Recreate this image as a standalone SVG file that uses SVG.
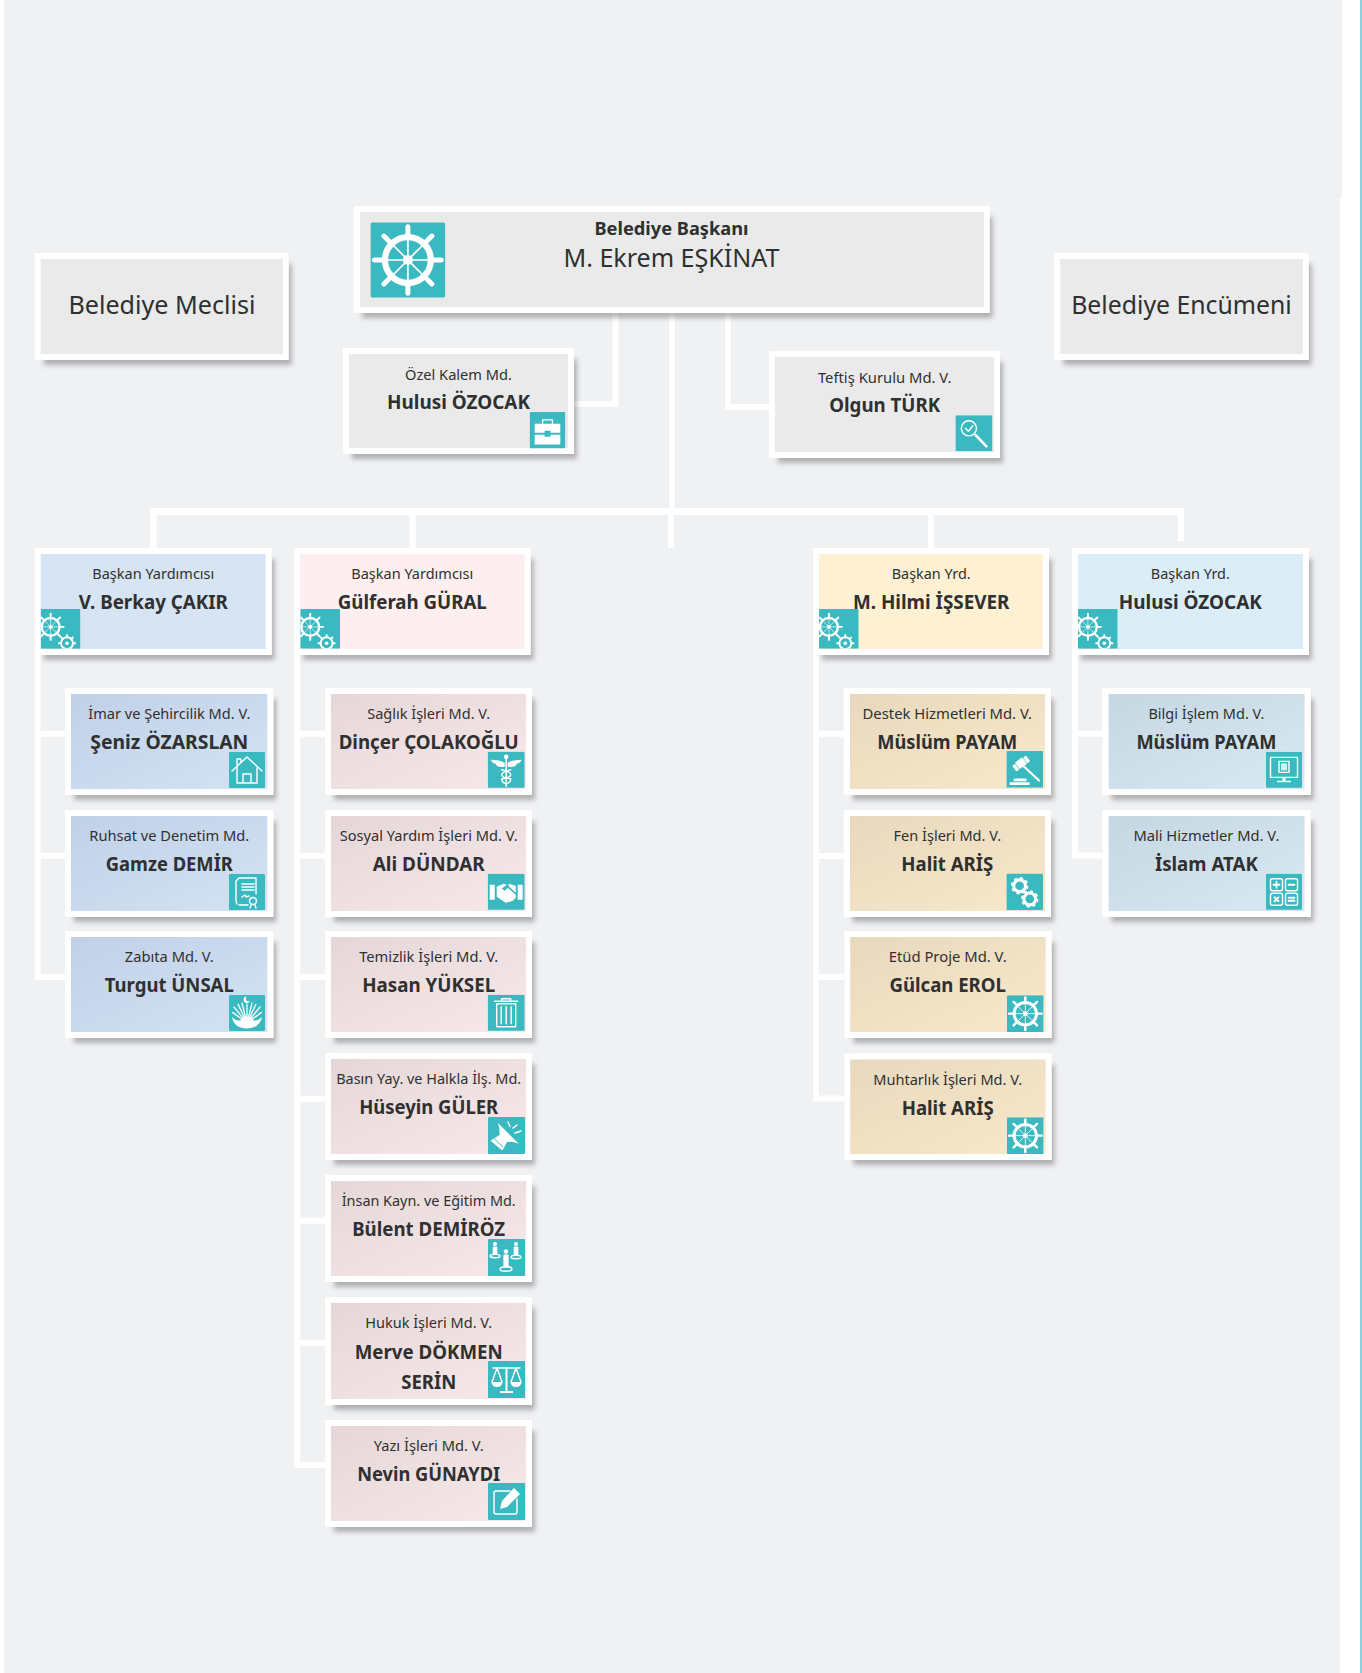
<svg xmlns="http://www.w3.org/2000/svg" width="1362" height="1673" viewBox="0 0 1362 1673">
<style>
text{font-family:"Noto Sans","Open Sans","Liberation Sans",sans-serif;fill:#2f3030;text-anchor:middle}
.r{font-size:15.2px}
.b{font-size:19.2px;font-weight:700}
.card{fill:#fff;filter:url(#sh)}
.ic{fill:#3bb9c1}
.i{fill:none;stroke:#fff;stroke-width:1.4;stroke-linecap:round;stroke-linejoin:round}
.w{fill:#fff}
.t{fill:#3bb9c1}
</style>
<defs>
<filter id="sh" x="-10%" y="-10%" width="125%" height="130%"><feMorphology in="SourceAlpha" operator="erode" radius="3"/><feOffset dx="6" dy="8"/><feGaussianBlur stdDeviation="2.4" result="o"/><feFlood flood-color="#000" flood-opacity=".27"/><feComposite in2="o" operator="in"/><feMerge><feMergeNode/><feMergeNode in="SourceGraphic"/></feMerge></filter>
<linearGradient id="g1" x1="0" y1="0" x2="1" y2="1"><stop offset="0" stop-color="#c0d0e8"/><stop offset="1" stop-color="#d4e3f3"/></linearGradient>
<linearGradient id="g2" x1="0" y1="0" x2="1" y2="1"><stop offset="0" stop-color="#e5d7d8"/><stop offset="1" stop-color="#f8e8ea"/></linearGradient>
<linearGradient id="g3" x1="0" y1="0" x2="1" y2="1"><stop offset="0" stop-color="#e8d9be"/><stop offset="1" stop-color="#f8e9cb"/></linearGradient>
<linearGradient id="g4" x1="0" y1="0" x2="1" y2="1"><stop offset="0" stop-color="#c5d7e2"/><stop offset="1" stop-color="#d9e9f4"/></linearGradient>
<g id="helmG">
<circle r="11" fill="none" stroke="#fff" stroke-width="3"/>
<g stroke="#fff" stroke-width="2.4" stroke-linecap="round"><path d="M0-11V-16M0 11V16M-11 0H-16M11 0H16M-7.8-7.8L-11.5-11.5M7.8-7.8L11.5-11.5M-7.8 7.8L-11.5 11.5M7.8 7.8L11.5 11.5"/></g>
<g stroke="#fff" stroke-width=".8"><path d="M0-10V10M-10 0H10M-7-7L7 7M-7 7L7-7"/></g>
<circle r="2.4" fill="#fff"/>
</g>
<g id="gearG"><circle r="5.8" fill="none" stroke="#fff" stroke-width="3"/><circle r="7.6" fill="none" stroke="#fff" stroke-width="2" stroke-dasharray="3 2.97"/></g>
<symbol id="i-helm" viewBox="0 0 36 36"><rect class="ic" width="36" height="36" rx="1"/><use href="#helmG" x="18" y="18"/></symbol>
<symbol id="i-vp" viewBox="0 0 40 40"><rect class="ic" width="40" height="40" rx="1"/><use href="#helmG" transform="translate(10 18) scale(.82)"/><g transform="translate(26.5 34.5)"><circle r="6" fill="none" stroke="#fff" stroke-width="2"/><circle r="1.8" fill="#fff"/><path d="M0-6V-9M0 6V9M-6 0H-9M6 0H9M-4.2-4.2L-6.4-6.4M4.2-4.2L6.4-6.4" stroke="#fff" stroke-width="1.8"/></g></symbol>
<symbol id="i-case" viewBox="0 0 36 37"><rect class="ic" width="36" height="37" rx="1"/><path class="w" d="M5 12H31V21H21V19H15V21H5ZM5 23H15V25H21V23H31V33H5Z"/><path class="i" d="M13 12V8H23V12"/></symbol>
<symbol id="i-mag" viewBox="0 0 37 36"><rect class="ic" width="37" height="36" rx="1"/><circle class="i" cx="13.5" cy="13" r="7.6"/><path class="i" d="M10 13L13 16L17.5 10.5"/><path d="M20 19.5L31 31" stroke="#fff" stroke-width="2.6" stroke-linecap="round"/></symbol>
<symbol id="i-house" viewBox="0 0 36 36"><rect class="ic" width="36" height="36" rx="1"/><path class="i" d="M3 19L18 5L33 19M8 15V31H28V16M14 31V22H22V31M8 13V7H12V10"/></symbol>
<symbol id="i-cert" viewBox="0 0 36 36"><rect class="ic" width="36" height="36" rx="1"/><path class="i" d="M8 30Q7 28 7 26V7L10 4H27V20M13 10H25M13 13H25M13 16H25M13 23L16 21L17 23L20 22M10 31H19"/><circle class="i" cx="24" cy="27" r="3.5"/><path class="i" d="M22 31L21 34M26 31L27 34"/></symbol>
<symbol id="i-peacock" viewBox="0 0 36 36"><rect class="ic" width="36" height="36" rx="1"/><path class="i" stroke-dasharray="1.6 1.1" d="M18 28L3 17M18 28L5 12M18 28L9 9M18 28L13 8M18 28L18 9M18 28L23 8M18 28L27 9M18 28L31 12M18 28L33 17"/><path class="w" d="M3 22Q5 33 18 33.5Q31 33 33 22Q28 27 24 25Q21 22 18 22Q15 22 12 25Q8 27 3 22Z"/><path class="w" d="M18 1.5A3.3 3.3 0 1 0 21 5.8A2.5 2.5 0 1 1 18 1.5Z"/></symbol>
<symbol id="i-cad" viewBox="0 0 37 36"><rect class="ic" width="37" height="36" rx="1"/><path class="w" d="M3 8Q12 8 17 11V15Q9 16 8 12Q5 12 3 8ZM34 8Q25 8 20 11V15Q28 16 29 12Q32 12 34 8Z"/><circle class="w" cx="18.5" cy="5" r="2.3"/><path d="M18.5 5V35" stroke="#fff" stroke-width="1.5"/><path class="i" d="M14 18Q23 20 23 23Q23 26 14 27Q14 31 18.5 32M23 18Q14 20 14 23Q14 26 23 27Q23 31 18.5 32"/></symbol>
<symbol id="i-hand" viewBox="0 0 37 36"><rect class="ic" width="37" height="36" rx="1"/><path class="w" d="M2 11H7V26H2ZM30 11H35V26H30Z"/><path class="w" d="M9 13L16 10L19 11L14 15L17 17L20 14L28 21V24L25 27L22 28L18 29L9 23Z"/><path class="w" d="M21 10L28 12V19L21 12.5Z"/></symbol>
<symbol id="i-trash" viewBox="0 0 37 36"><rect class="ic" width="37" height="36" rx="1"/><path class="i" d="M7 6.5H30M14 6V4H23V6M9 9H28V32H9ZM13.5 12V29M18.5 12V29M23.5 12V29"/></symbol>
<symbol id="i-mega" viewBox="0 0 37 37"><rect class="ic" width="37" height="37" rx="1"/><path class="w" d="M10 6L31 27Q25 24 19 25L15 32.5Q14 33.5 13 32.5L3.5 24.5Q2.5 23.5 3.5 23L11.5 18Q12 12 10 6Z"/><path d="M6 21.5L15 30" stroke="#3bb9c1" stroke-width="1"/><path class="i" stroke-width="1.8" d="M20 5L22 9.5M25 11L29 8M27 16L33 14"/></symbol>
<symbol id="i-people" viewBox="0 0 37 37"><rect class="ic" width="37" height="37" rx="1"/><g class="w"><circle cx="7" cy="5" r="2"/><rect x="4.7" y="7.5" width="4.6" height="8" rx="1"/><circle cx="28" cy="5" r="2"/><rect x="25.7" y="7.5" width="4.600" height="9" rx="1"/><circle cx="18" cy="12.5" r="2.2"/><rect x="15.4" y="15.5" width="5.2" height="13" rx="1"/></g><g class="i" stroke-width=".9"><ellipse cx="7" cy="17" rx="5" ry="1.800"/><ellipse cx="28" cy="18" rx="5" ry="1.800"/><ellipse cx="18" cy="30" rx="6" ry="2.3"/></g></symbol>
<symbol id="i-scale" viewBox="0 0 37 37"><rect class="ic" width="37" height="37" rx="1"/><path d="M18.5 6V30" stroke="#fff" stroke-width="2"/><path class="w" d="M12 30H25V32H12Z"/><path class="i" d="M5 7H32M9 7L4 21M9 7L14 21M28 7L23 21M28 7L33 21"/><path class="w" d="M3.5 21H14.5Q14 26 9 26Q4 26 3.5 21ZM22.5 21H33.5Q33 26 28 26Q23 26 22.5 21Z"/></symbol>
<symbol id="i-edit" viewBox="0 0 37 37"><rect class="ic" width="37" height="37" rx="1"/><path class="i" stroke-width="2" d="M22 8H8Q6 8 6 10V29Q6 31 8 31H27Q29 31 29 29V16"/><path class="w" d="M26 5L32 11L19 24L12 26L14 18Z"/></symbol>
<symbol id="i-gavel" viewBox="0 0 36 36"><rect class="ic" width="36" height="36" rx="1"/><g transform="translate(14 11.500) rotate(-37)"><rect class="w" x="-8.500" y="-2.500" width="3.500" height="7" rx="1"/><rect class="w" x="-4.500" y="-3.500" width="9" height="8" rx="1"/><rect class="w" x="5" y="-2.500" width="3.500" height="7" rx="1"/></g><path d="M17 15L32 29" stroke="#fff" stroke-width="2.200" stroke-linecap="round"/><rect class="w" x="7" y="27" width="13" height="2.600" rx="1.200"/><rect class="w" x="3" y="30.800" width="20" height="2.600" rx="1.200"/></symbol>
<symbol id="i-gears" viewBox="0 0 36 36"><rect class="ic" width="36" height="36" rx="1"/><use href="#gearG" x="13" y="12"/><use href="#gearG" x="23" y="25"/></symbol>
<symbol id="i-mon" viewBox="0 0 36 36"><rect class="ic" width="36" height="36" rx="1"/><rect class="i" x="4.5" y="5.5" width="27" height="20"/><rect class="i" x="13" y="9.500" width="10" height="11"/><rect class="w" x="15" y="11.500" width="6" height="7" opacity=".8"/><path class="w" d="M16.5 26H19.5V29H25V30.5H11V29H16.5Z"/></symbol>
<symbol id="i-calc" viewBox="0 0 36 36"><rect class="ic" width="36" height="36" rx="1"/><g class="i"><rect x="4.5" y="5" width="12" height="12" rx="2"/><rect x="19.5" y="5" width="12" height="12" rx="2"/><rect x="4.5" y="19.5" width="12" height="12" rx="2"/><rect x="19.5" y="19.5" width="12" height="12" rx="2"/><path stroke-width="1.8" d="M10.5 8V14M7.5 11H13.5M22.5 11H28.5M8.5 23.5L12.5 27.5M12.5 23.5L8.500 27.5M22.5 24H28.5M22.5 27H28.5"/></g></symbol>
</defs>

<rect width="1362" height="1673" fill="#fff"/>
<path d="M4 0H1342V198H1340V1673H4Z" fill="#f0f1f3"/>
<rect x="1360" width="2" height="1673" fill="#8dd0de"/>

<g id="connectors" fill="#fff">
<path d="M612.4 313H618.4V407H574V401H612.4Z"/>
<path d="M669 313H675V508H669Z"/>
<path d="M725 313H731V404H769V410H725Z"/>
<path d="M150 508H1184V541H1178V515H933.7V548H928V515H674V548H668V515H415.7V548H409.5V515H156.7V548H150Z"/>
<path d="M34.7 650H40.7V730.7H65V736.7H40.7V852.7H65V858.7H40.7V974H65V980H34.7Z"/>
<path d="M294.3 650H300.3V730.7H325V736.7H300.3V852.7H325V858.7H300.3V974H325V980H300.3V1095.7H325V1101.7H300.3V1217.7H325V1223.7H300.3V1339.7H325V1345.7H300.3V1462H325V1468H294.3Z"/>
<path d="M813 650H819V730.7H844V736.7H819V853H844V859H819V974H844V980H819V1095.5H844V1101.6H813Z"/>
<path d="M1072 650H1078V730.7H1103V736.7H1078V852.4H1103V858.4H1072Z"/>
</g>

<g id="n-baskan"><rect class="card" x="353.4" y="206" width="636.3" height="107"/><rect x="360" y="212" width="624" height="95" fill="#eaeaea"/><use href="#i-helm" x="370.4" y="222" width="75" height="76"/><text x="671.5" y="234.7" font-size="18" font-weight="700" textLength="154" lengthAdjust="spacingAndGlyphs">Belediye Başkanı</text><text x="671.5" y="267" font-size="25" textLength="216" lengthAdjust="spacingAndGlyphs">M. Ekrem EŞKİNAT</text></g>

<g id="n-meclis"><rect class="card" x="34.7" y="253" width="254" height="107"/><rect x="40.7" y="259" width="242.300" height="95" fill="#eaeaea"/><text x="162" y="314" font-size="26" textLength="187" lengthAdjust="spacingAndGlyphs">Belediye Meclisi</text></g>
<g id="n-encumen"><rect class="card" x="1054.3" y="253" width="254.400" height="107"/><rect x="1060.3" y="259" width="242.700" height="95" fill="#eaeaea"/><text x="1181.5" y="314" font-size="26" textLength="220.500" lengthAdjust="spacingAndGlyphs">Belediye Encümeni</text></g>

<g id="n-ozelkalem"><rect class="card" x="343" y="348" width="231" height="106"/><rect x="349" y="354" width="219" height="94" fill="#eaeaea"/><use href="#i-case" x="529.5" y="412" width="36" height="36.5"/><text class="r" x="458.5" y="380" textLength="107" lengthAdjust="spacingAndGlyphs">Özel Kalem Md.</text><text class="b" x="458.5" y="409" textLength="143" lengthAdjust="spacingAndGlyphs">Hulusi ÖZOCAK</text></g>
<g id="n-teftis"><rect class="card" x="769" y="351" width="231" height="107"/><rect x="775" y="357" width="219" height="95" fill="#eaeaea"/><use href="#i-mag" x="955.4" y="415.3" width="37" height="36"/><text class="r" x="884.7" y="382.7" textLength="133.6" lengthAdjust="spacingAndGlyphs">Teftiş Kurulu Md. V.</text><text class="b" x="884.7" y="412" textLength="111" lengthAdjust="spacingAndGlyphs">Olgun TÜRK</text></g>

<g id="n-vp1"><rect class="card" x="34.7" y="548" width="237" height="107"/><rect x="40.7" y="554" width="225" height="95" fill="#d6e4f3"/><use href="#i-vp" x="40.7" y="609" width="39.7" height="39.7"/><text class="r" x="153.3" y="579.3" textLength="122" lengthAdjust="spacingAndGlyphs">Başkan Yardımcısı</text><text class="b" x="153.3" y="609" textLength="149" lengthAdjust="spacingAndGlyphs">V. Berkay ÇAKIR</text></g>
<g id="n-vp2"><rect class="card" x="294.3" y="548" width="236.4" height="107"/><rect x="300.3" y="554" width="224.4" height="95" fill="#fdeeef"/><use href="#i-vp" x="300.3" y="609" width="39.7" height="39.7"/><text class="r" x="412.3" y="579.3" textLength="122" lengthAdjust="spacingAndGlyphs">Başkan Yardımcısı</text><text class="b" x="412.3" y="609" textLength="149" lengthAdjust="spacingAndGlyphs">Gülferah GÜRAL</text></g>
<g id="n-vp3"><rect class="card" x="813" y="548" width="236" height="107"/><rect x="819" y="554" width="224" height="95" fill="#fef0d2"/><use href="#i-vp" x="819" y="609" width="39.7" height="39.7"/><text class="r" x="931.2" y="579.3" textLength="79" lengthAdjust="spacingAndGlyphs">Başkan Yrd.</text><text class="b" x="931.2" y="609" textLength="156.6" lengthAdjust="spacingAndGlyphs">M. Hilmi İŞSEVER</text></g>
<g id="n-vp4"><rect class="card" x="1072" y="548" width="237" height="107"/><rect x="1078" y="554" width="225" height="95" fill="#dbedf6"/><use href="#i-vp" x="1078" y="609" width="39.7" height="39.7"/><text class="r" x="1190.3" y="579.3" textLength="79" lengthAdjust="spacingAndGlyphs">Başkan Yrd.</text><text class="b" x="1190.3" y="609" textLength="143" lengthAdjust="spacingAndGlyphs">Hulusi ÖZOCAK</text></g>

<g id="n-imar"><rect class="card" x="65" y="688" width="208.3" height="107"/><rect x="71" y="694" width="196.3" height="95" fill="url(#g1)"/><use href="#i-house" x="229" y="752" width="36" height="36"/><text class="r" x="169.3" y="719.3" textLength="162" lengthAdjust="spacingAndGlyphs">İmar ve Şehircilik Md. V.</text><text class="b" x="169.3" y="749" textLength="158" lengthAdjust="spacingAndGlyphs">Şeniz ÖZARSLAN</text></g>
<g id="n-ruhsat"><rect class="card" x="65" y="810" width="208.3" height="107"/><rect x="71" y="816" width="196.3" height="95" fill="url(#g1)"/><use href="#i-cert" x="229" y="874" width="36" height="36"/><text class="r" x="169.3" y="841.3" textLength="160" lengthAdjust="spacingAndGlyphs">Ruhsat ve Denetim Md.</text><text class="b" x="169.3" y="871" textLength="127" lengthAdjust="spacingAndGlyphs">Gamze DEMİR</text></g>
<g id="n-zabita"><rect class="card" x="65" y="931" width="208.3" height="107"/><rect x="71" y="937" width="196.3" height="95" fill="url(#g1)"/><use href="#i-peacock" x="229" y="995" width="36" height="36"/><text class="r" x="169.3" y="962.3" textLength="89" lengthAdjust="spacingAndGlyphs">Zabıta Md. V.</text><text class="b" x="169.3" y="992" textLength="129" lengthAdjust="spacingAndGlyphs">Turgut ÜNSAL</text></g>

<g id="n-saglik"><rect class="card" x="325" y="688" width="207" height="107"/><rect x="331" y="694" width="195" height="95" fill="url(#g2)"/><use href="#i-cad" x="487.7" y="751.5" width="37" height="36.5"/><text class="r" x="428.7" y="719.3" textLength="123" lengthAdjust="spacingAndGlyphs">Sağlık İşleri Md. V.</text><text class="b" x="428.7" y="749" textLength="180" lengthAdjust="spacingAndGlyphs">Dinçer ÇOLAKOĞLU</text></g>
<g id="n-sosyal"><rect class="card" x="325" y="810" width="207" height="107"/><rect x="331" y="816" width="195" height="95" fill="url(#g2)"/><use href="#i-hand" x="487.7" y="873.5" width="37" height="36.5"/><text class="r" x="428.7" y="841.3" textLength="178" lengthAdjust="spacingAndGlyphs">Sosyal Yardım İşleri Md. V.</text><text class="b" x="428.7" y="871" textLength="112" lengthAdjust="spacingAndGlyphs">Ali DÜNDAR</text></g>
<g id="n-temizlik"><rect class="card" x="325" y="931" width="207" height="107"/><rect x="331" y="937" width="195" height="95" fill="url(#g2)"/><use href="#i-trash" x="487.7" y="994.5" width="37" height="36.5"/><text class="r" x="428.7" y="962.3" textLength="139" lengthAdjust="spacingAndGlyphs">Temizlik İşleri Md. V.</text><text class="b" x="428.7" y="992" textLength="133" lengthAdjust="spacingAndGlyphs">Hasan YÜKSEL</text></g>
<g id="n-basin"><rect class="card" x="325" y="1053" width="207" height="107"/><rect x="331" y="1059" width="195" height="95" fill="url(#g2)"/><use href="#i-mega" x="488" y="1117" width="37" height="37"/><text class="r" x="428.7" y="1084.3" textLength="185" lengthAdjust="spacingAndGlyphs">Basın Yay. ve Halkla İlş. Md.</text><text class="b" x="428.7" y="1114" textLength="139" lengthAdjust="spacingAndGlyphs">Hüseyin GÜLER</text></g>
<g id="n-insan"><rect class="card" x="325" y="1175" width="207" height="107"/><rect x="331" y="1181" width="195" height="95" fill="url(#g2)"/><use href="#i-people" x="488" y="1239" width="37" height="37"/><text class="r" x="428.7" y="1206.3" textLength="174" lengthAdjust="spacingAndGlyphs">İnsan Kayn. ve Eğitim Md.</text><text class="b" x="428.7" y="1236" textLength="153" lengthAdjust="spacingAndGlyphs">Bülent DEMİRÖZ</text></g>
<g id="n-hukuk"><rect class="card" x="325" y="1297" width="207" height="108"/><rect x="331" y="1303" width="195" height="96" fill="url(#g2)"/><use href="#i-scale" x="488" y="1361" width="37" height="37"/><text class="r" x="428.7" y="1328.3" textLength="127" lengthAdjust="spacingAndGlyphs">Hukuk İşleri Md. V.</text><text class="b" x="428.7" y="1358.7" textLength="148" lengthAdjust="spacingAndGlyphs">Merve DÖKMEN</text><text class="b" x="428.7" y="1389" textLength="55" lengthAdjust="spacingAndGlyphs">SERİN</text></g>
<g id="n-yazi"><rect class="card" x="325" y="1420" width="207" height="107"/><rect x="331" y="1426" width="195" height="95" fill="url(#g2)"/><use href="#i-edit" x="488" y="1483" width="37" height="37"/><text class="r" x="428.7" y="1451.3" textLength="110" lengthAdjust="spacingAndGlyphs">Yazı İşleri Md. V.</text><text class="b" x="428.7" y="1481" textLength="143" lengthAdjust="spacingAndGlyphs">Nevin GÜNAYDI</text></g>

<g id="n-destek"><rect class="card" x="843.7" y="688" width="207.3" height="107"/><rect x="850" y="694" width="195" height="95" fill="url(#g3)"/><use href="#i-gavel" x="1006.4" y="751" width="36.6" height="36.7"/><text class="r" x="947.3" y="719.3" textLength="169.5" lengthAdjust="spacingAndGlyphs">Destek Hizmetleri Md. V.</text><text class="b" x="947.3" y="749" textLength="140" lengthAdjust="spacingAndGlyphs">Müslüm PAYAM</text></g>
<g id="n-fen"><rect class="card" x="843.7" y="810" width="207.3" height="107"/><rect x="850" y="816" width="195" height="95" fill="url(#g3)"/><use href="#i-gears" x="1006.4" y="873.5" width="36.6" height="36.7"/><text class="r" x="947.3" y="841.3" textLength="107.5" lengthAdjust="spacingAndGlyphs">Fen İşleri Md. V.</text><text class="b" x="947.3" y="871" textLength="92" lengthAdjust="spacingAndGlyphs">Halit ARİŞ</text></g>
<g id="n-etud"><rect class="card" x="844.4" y="931" width="207.2" height="107"/><rect x="850.2" y="937" width="195.4" height="95" fill="url(#g3)"/><use href="#i-helm" x="1007" y="995.3" width="36.6" height="36.7"/><text class="r" x="947.7" y="962.3" textLength="118" lengthAdjust="spacingAndGlyphs">Etüd Proje Md. V.</text><text class="b" x="947.7" y="992" textLength="116.5" lengthAdjust="spacingAndGlyphs">Gülcan EROL</text></g>
<g id="n-muhtar"><rect class="card" x="844.4" y="1053.5" width="207.2" height="106.5"/><rect x="850.2" y="1059.5" width="195.4" height="94.5" fill="url(#g3)"/><use href="#i-helm" x="1007" y="1117.3" width="36.6" height="36.7"/><text class="r" x="947.7" y="1084.7" textLength="149" lengthAdjust="spacingAndGlyphs">Muhtarlık İşleri Md. V.</text><text class="b" x="947.7" y="1114.5" textLength="92" lengthAdjust="spacingAndGlyphs">Halit ARİŞ</text></g>

<g id="n-bilgi"><rect class="card" x="1102.5" y="688" width="208.2" height="107"/><rect x="1108.6" y="694" width="196" height="95" fill="url(#g4)"/><use href="#i-mon" x="1266" y="751.7" width="36" height="36.3"/><text class="r" x="1206.4" y="719.3" textLength="116" lengthAdjust="spacingAndGlyphs">Bilgi İşlem Md. V.</text><text class="b" x="1206.4" y="749" textLength="140" lengthAdjust="spacingAndGlyphs">Müslüm PAYAM</text></g>
<g id="n-mali"><rect class="card" x="1102.5" y="810" width="208.2" height="107"/><rect x="1108.6" y="816" width="196" height="95" fill="url(#g4)"/><use href="#i-calc" x="1266" y="873.5" width="36" height="36.5"/><text class="r" x="1206.4" y="841.3" textLength="146" lengthAdjust="spacingAndGlyphs">Mali Hizmetler Md. V.</text><text class="b" x="1206.4" y="871" textLength="103" lengthAdjust="spacingAndGlyphs">İslam ATAK</text></g>
</svg>
